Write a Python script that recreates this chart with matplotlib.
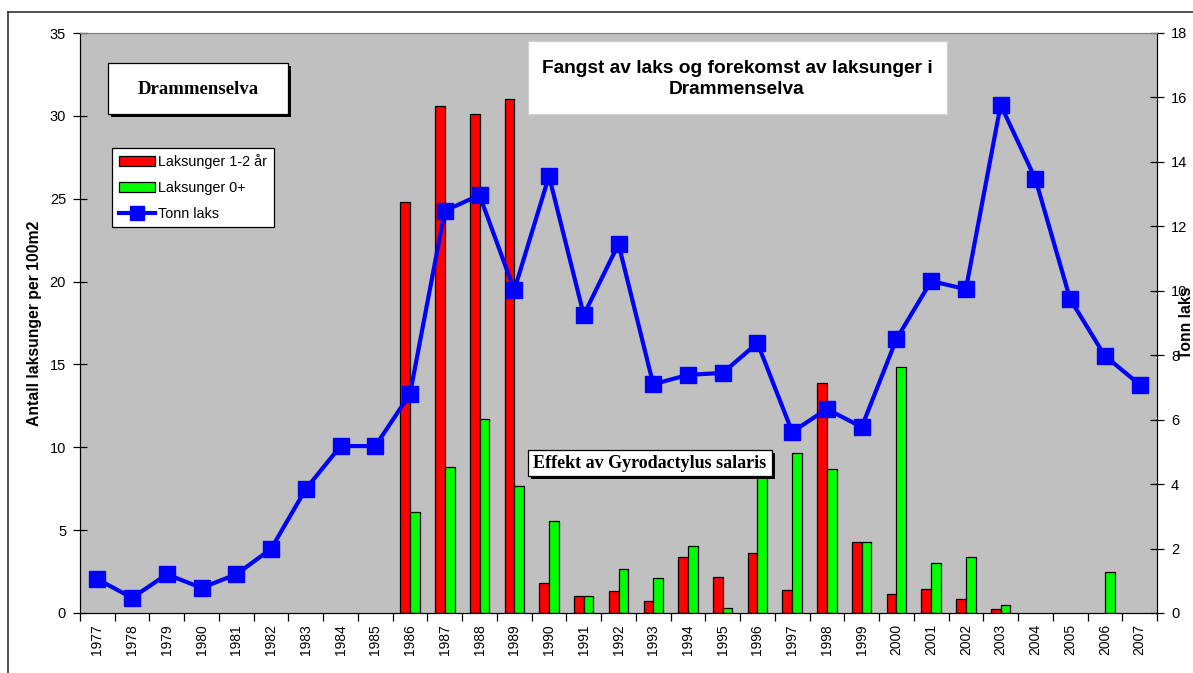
import matplotlib
matplotlib.use("Agg")
import matplotlib.pyplot as plt
import numpy as np
from matplotlib.patches import Rectangle, Patch
from matplotlib.lines import Line2D

years = list(range(1977, 2008))

# Laksunger 1-2 år (per 100 m2), nan = no bar that year
nan = np.nan
red_vals = [nan, nan, nan, nan, nan, nan, nan, nan, nan,
            24.8, 30.6, 30.1, 31.0, 1.8, 1.0, 1.3, 0.7, 3.4, 2.2, 3.6,
            1.4, 13.9, 4.3, 1.15, 1.45, 0.85, 0.24, nan, nan, nan, nan]
# Laksunger 0+
green_vals = [nan, nan, nan, nan, nan, nan, nan, nan, nan,
              6.1, 8.8, 11.7, 7.65, 5.55, 1.0, 2.65, 2.1, 4.05, 0.3, 8.6,
              9.65, 8.7, 4.3, 14.85, 3.0, 3.37, 0.5, nan, nan, 2.5, nan]
# Tonn laks (right axis)
tonn_laks = [1.05, 0.47, 1.2, 0.78, 1.2, 1.99, 3.85, 5.18, 5.18,
             6.8, 12.48, 12.97, 10.02, 13.56, 9.25, 11.45, 7.1, 7.39, 7.45, 8.38,
             5.62, 6.33, 5.77, 8.5, 10.3, 10.05, 15.77, 13.47, 9.74, 7.98, 7.09]

W, H = 1193, 673
fig = plt.figure(figsize=(W / 100, H / 100), dpi=100)
plt.rcParams['font.family'] = ['Liberation Sans', 'DejaVu Sans']


def fx(x):
    return x / W


def fy(y):
    return 1 - y / H


ax = fig.add_axes([fx(80), fy(613), (1157 - 80) / W, 580 / H])
ax.set_facecolor('#c0c0c0')

x = np.arange(len(years))
bw = 0.28
ax.bar(x - bw / 2, red_vals, bw, color='#ff0000', edgecolor='black', linewidth=0.9)
ax.bar(x + bw / 2, green_vals, bw, color='#00ff00', edgecolor='black', linewidth=0.9)
ax.set_xlim(-0.5, len(years) - 0.5)
ax.set_ylim(0, 35)
ax.set_yticks(range(0, 36, 5))
ax.set_xticks(np.arange(-0.5, len(years), 1.0))
ax.set_xticklabels([])
ax.set_xticks(x, minor=True)
ax.set_xticklabels([str(y) for y in years], minor=True, rotation=90, fontsize=10)
ax.tick_params(axis='x', which='major', direction='out', length=6, width=0.9)
ax.tick_params(axis='x', which='minor', length=0, pad=8)
ax.tick_params(axis='y', direction='inout', length=10, width=0.9, labelsize=10.5, pad=5)
ax.set_ylabel('Antall laksunger per 100m2', fontsize=11.3, fontweight='bold')
ax.yaxis.set_label_coords(-0.035, 0.5)
ax.spines['top'].set_color('#808080')

ax2 = ax.twinx()
ax2.plot(x, tonn_laks, color='#0000ff', linewidth=3, marker='s', markersize=12)
ax2.set_ylim(0, 18)
ax2.set_yticks(range(0, 19, 2))
ax2.tick_params(axis='y', direction='inout', length=10, width=0.9, labelsize=10.5, pad=5)
ax2.set_ylabel('Tonn laks', fontsize=11.3, fontweight='bold')
ax2.yaxis.set_label_coords(1.0205, 0.5)
ax2.spines['top'].set_color('#808080')

handles = [Patch(facecolor='#ff0000', edgecolor='black', linewidth=0.9),
           Patch(facecolor='#00ff00', edgecolor='black', linewidth=0.9),
           Line2D([], [], color='#0000ff', linewidth=3, marker='s', markersize=12)]
leg = ax2.legend(handles, ['Laksunger 1-2 år', 'Laksunger 0+', 'Tonn laks'],
                 loc='upper left', bbox_to_anchor=(fx(112), fy(148)),
                 bbox_transform=fig.transFigure, fontsize=10.4, fancybox=False,
                 framealpha=1, edgecolor='black', borderaxespad=0,
                 handlelength=2.5, handleheight=0.7, labelspacing=0.8,
                 borderpad=0.45, handletextpad=0.25, markerscale=0.85)
leg.get_frame().set_linewidth(0.9)


def box(x0, y0, x1, y1, shadow, edge=True):
    if shadow:
        fig.add_artist(Rectangle((fx(x0 + shadow), fy(y1 + shadow)), (x1 - x0) / W, (y1 - y0) / H,
                                 transform=fig.transFigure, facecolor='black', edgecolor='none', zorder=5))
    fig.add_artist(Rectangle((fx(x0), fy(y1)), (x1 - x0) / W, (y1 - y0) / H,
                             transform=fig.transFigure, facecolor='white',
                             edgecolor='black' if edge else '#d0d0d0', linewidth=0.9, zorder=6))


box(108, 63, 288, 114, 3)
fig.text(fx(198), fy(89), 'Drammenselva', ha='center', va='center', fontsize=13.5,
         fontweight='bold', family='Liberation Serif', zorder=7)

box(528, 41, 947, 114, 0, edge=False)
fig.text(fx(737), fy(79), 'Fangst av laks og forekomst av laksunger i\nDrammenselva',
         ha='center', va='center', fontsize=13.8, fontweight='bold', linespacing=1.3, zorder=7)

box(528, 450, 772, 476, 3)
fig.text(fx(650), fy(464), 'Effekt av Gyrodactylus salaris', ha='center', va='center',
         fontsize=13, fontweight='bold', family='Liberation Serif', zorder=7)

# outer chart frame
fig.add_artist(Line2D([fx(8), 1], [fy(12), fy(12)], transform=fig.transFigure, color='#333333', linewidth=1.2))
fig.add_artist(Line2D([fx(8), fx(8)], [fy(12), 0], transform=fig.transFigure, color='#333333', linewidth=1.2))

fig.savefig('out.png', dpi=100)
